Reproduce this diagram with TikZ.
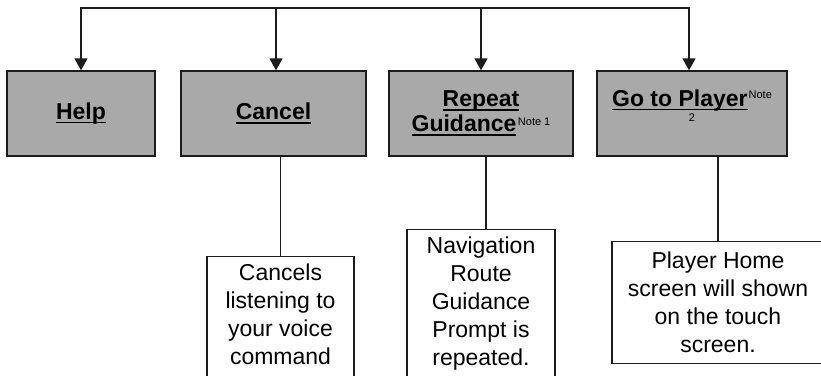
\documentclass[tikz,border=0pt]{standalone}
\usepackage{fontspec}
\setmainfont{Liberation Sans}
\usetikzlibrary{arrows.meta}
\definecolor{boxgray}{HTML}{A9A9A9}
\definecolor{ink}{HTML}{1C1C1C}
\newcommand\myul[1]{\setbox0\hbox{#1}\rlap{\rule[-4pt]{\wd0}{1.5pt}}\box0}
\newcommand\notetext[2]{\raisebox{#1}{\fontsize{11}{11}\selectfont\mdseries #2}}
\begin{document}
\begin{tikzpicture}[x=1pt,y=-1pt,
  head/.style={draw=ink, line width=1.3pt, fill=boxgray, minimum height=85pt,
    inner sep=0pt, align=center, font=\fontsize{23}{25}\selectfont\bfseries},
  desc/.style={draw=ink, line width=1.2pt, fill=white, anchor=north, align=center,
    inner xsep=0pt, font=\fontsize{23}{28}\selectfont},
  link/.style={draw=ink, line width=1.3pt},
  tip/.tip={Triangle[width=13pt,length=12pt]},
  arr/.style={link, -tip}]
\useasboundingbox (0,0) rectangle (821,375);
\clip (0,0) rectangle (821,375);

% top-level boxes
\node[head, minimum width=148pt] (help) at (81,113.5) {\myul{Help}};
\node[head, minimum width=185pt] (cancel) at (273.5,113.5) {\myul{Cancel}};
\node[head, minimum width=184pt] (repeat) at (481,113.5)
  {\myul{Repeat}\\\myul{Guidance}\kern1.5pt\notetext{6pt}{Note 1}};
\node[head, minimum width=190pt] (player) at (692,113.5)
  {\myul{Go to Player}\kern1pt\notetext{7.5pt}{Note}\\%
   \raisebox{10pt}{\fontsize{11}{11}\selectfont\mdseries 2}\rule[-6.5pt]{0pt}{6.5pt}};

% description boxes
\node[desc, minimum width=147pt, inner ysep=7.5pt] (cdesc) at (280.5,256)
  {Cancels\\listening to\\your voice\\command\\\rule[-30pt]{0pt}{30pt}};
\node[desc, minimum width=148pt, inner ysep=7.5pt] (ndesc) at (481,229)
  {Navigation\\Route\\Guidance\\Prompt is\\repeated.\\\rule[-30pt]{0pt}{30pt}};
\node[desc, minimum width=212pt, inner ysep=10.5pt] (pdesc) at (718,241)
  {Player Home\\screen will shown\\on the touch\\screen.};

% top bus with arrows
\coordinate (t1) at (81,8);
\coordinate (t2) at (276,8);
\coordinate (t3) at (481,8);
\coordinate (t4) at (689,8);
\draw[link, tip-tip] (t1 |- help.north) -- (t1) -- (t4) -- (t4 |- player.north);
\draw[arr] (t2) -- (t2 |- cancel.north);
\draw[arr] (t3) -- (t3 |- repeat.north);

% drops to descriptions
\coordinate (r2) at (486,200);
\draw[link] (cdesc.north |- cancel.south) -- (cdesc.north);
\draw[link] (r2 |- repeat.south) -- (r2 |- ndesc.north);
\draw[link] (pdesc.north |- player.south) -- (pdesc.north);
\end{tikzpicture}
\end{document}
